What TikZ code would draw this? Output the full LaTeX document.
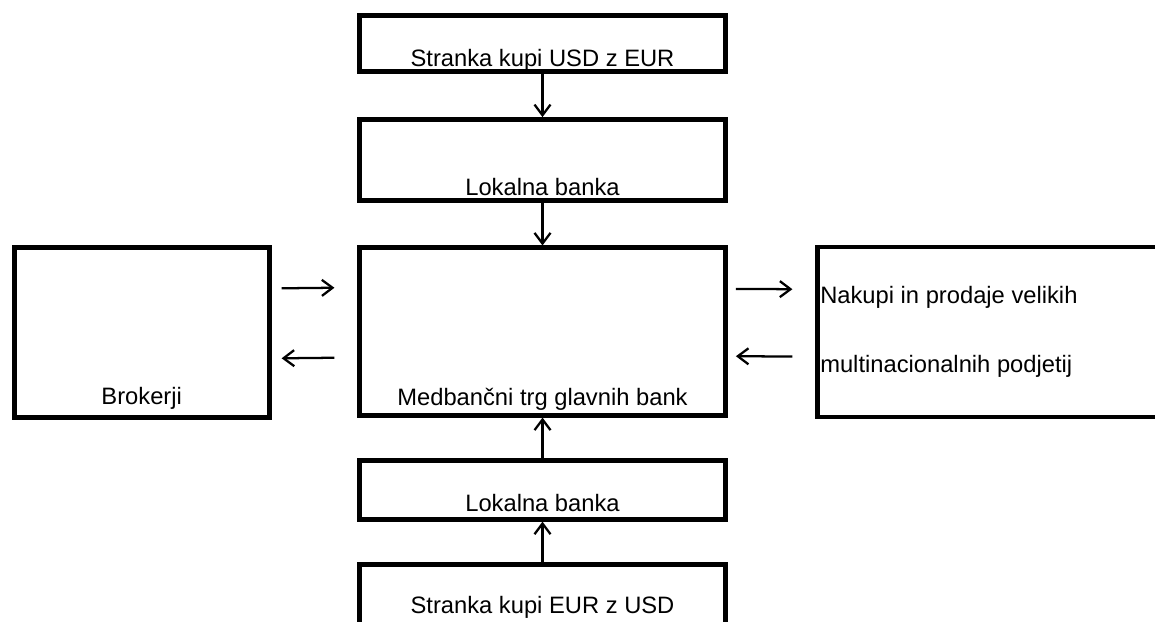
\documentclass[tikz,border=0pt]{standalone}
\usepackage{fontspec}
\setmainfont{Liberation Sans}
\usetikzlibrary{arrows.meta}
\begin{document}
\begin{tikzpicture}[x=0.75pt, y=-0.75pt, >={Straight Barb[length=8pt,width=12pt]},
  box/.style={draw, line width=3.6pt, inner sep=0pt},
  lbl/.style={inner sep=0pt, font=\fontsize{17.8}{20}\selectfont},
  flow/.style={->, line width=1.7pt}]
\useasboundingbox (0,0) rectangle (1155,621);
\clip (0,0) rectangle (1155,621);

% boxes (sizes in px, 1px = 0.75pt)
\node[box, minimum width=274.5pt, minimum height=41.8pt] (kupiusd) at (542.5,43.7) {};
\node[box, minimum width=274.5pt, minimum height=61pt] (lokalna1) at (542.5,160.2) {};
\node[box, minimum width=274.5pt, minimum height=125.5pt] (medbancni) at (542.5,331.5) {};
\node[box, minimum width=274.5pt, minimum height=44pt] (lokalna2) at (542.5,489.9) {};
\node[box, minimum width=274.5pt, minimum height=90pt] (kupieur) at (542.5,624.2) {};
\node[box, minimum width=191.3pt, minimum height=127.7pt] (brokerji) at (141.7,332.4) {};
\node[box, minimum width=287pt, minimum height=127.5pt] (podjetja) at (1008.8,332) {};

% texts
\node[lbl, anchor=base] (tkupiusd) at (542.5,66) {Stranka kupi USD z EUR};
\node[lbl, anchor=base] (tlokalna1) at (542.5,195.5) {Lokalna banka};
\node[lbl, anchor=base] (tmedbancni) at (542.5,405) {Medbančni trg glavnih bank};
\node[lbl, anchor=base] (tlokalna2) at (542.5,511.5) {Lokalna banka};
\node[lbl, anchor=base] (tkupieur) at (542.5,613) {Stranka kupi EUR z USD};
\node[lbl, anchor=base] (tbrokerji) at (141.7,404) {Brokerji};
\node[lbl, anchor=base west] (tpodjetja1) at (820,303) {Nakupi in prodaje velikih};
\node[lbl, anchor=base west] (tpodjetja2) at (820,372) {multinacionalnih podjetij};

% vertical flow
\draw[flow] (kupiusd) -- (lokalna1);
\draw[flow] (lokalna1) -- (medbancni);
\draw[flow] (lokalna2) -- (medbancni);
\draw[flow] (kupieur.north) -- (lokalna2);

% side flow
\draw[flow, shorten <=7.5pt, shorten >=17pt] ([yshift=33pt]brokerji.east) -- ([yshift=33pt]medbancni.west);
\draw[flow, shorten <=17pt, shorten >=7.5pt] ([yshift=-19.5pt]medbancni.west) -- ([yshift=-19.5pt]brokerji.east);
\draw[flow, shorten <=6pt, shorten >=17pt] ([yshift=32pt]medbancni.east) -- ([yshift=32pt]podjetja.west);
\draw[flow, shorten <=17pt, shorten >=6pt] ([yshift=-18.5pt]podjetja.west) -- ([yshift=-18.5pt]medbancni.east);
\end{tikzpicture}
\end{document}
